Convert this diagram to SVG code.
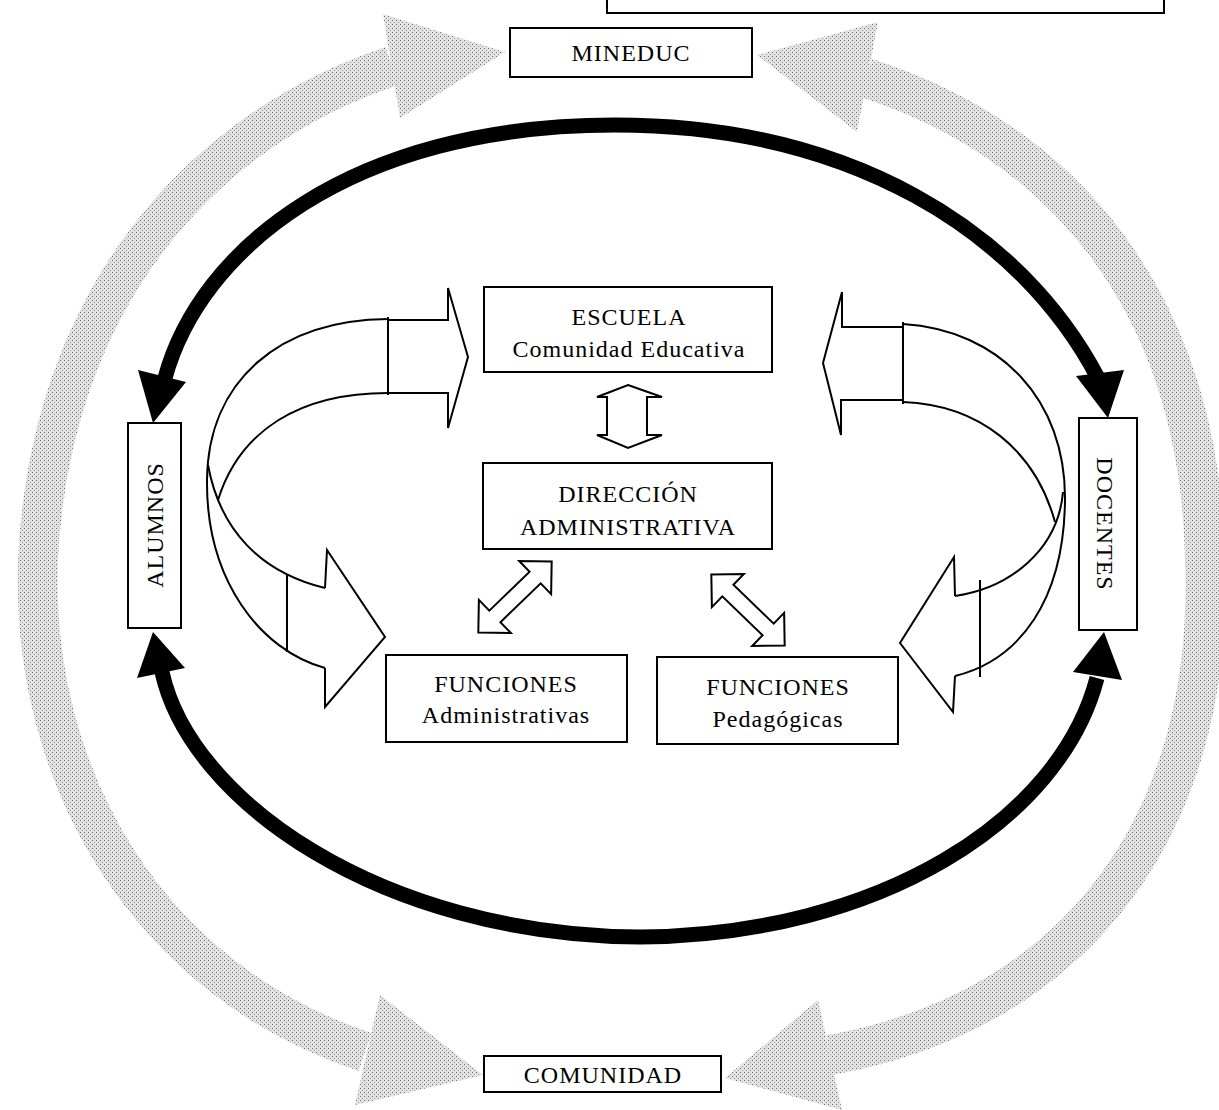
<svg xmlns="http://www.w3.org/2000/svg" width="1219" height="1110" viewBox="0 0 1219 1110">
<defs>
  <pattern id="stip" width="4" height="4" patternUnits="userSpaceOnUse">
    <rect width="4" height="4" fill="#e2e2e2"/>
    <rect x="0" y="0" width="1" height="1" fill="#6e6e6e"/>
    <rect x="2" y="2" width="1" height="1" fill="#9a9a9a"/>
  </pattern>
</defs>
<style>
  .box{fill:#fff;stroke:#000;stroke-width:2}
  .t{font-family:"Liberation Serif","Times New Roman",serif;font-size:24px;fill:#000;text-anchor:middle;letter-spacing:1px}
  .hol{fill:#fff;stroke:#000;stroke-width:2;stroke-linejoin:miter}
  .ln{fill:none;stroke:#000;stroke-width:2}
  .thick{fill:none;stroke:#000;stroke-width:15}
  .head{fill:#000}
  .gband{fill:none;stroke:url(#stip);stroke-width:40}
  .ghead{fill:url(#stip)}
</style>
<rect width="1219" height="1110" fill="#fff"/>

<g id="connectors">
  <g id="gray-left">
    <path class="gband" d="M392,66 C200,130 50,300 38,560 C30,780 150,980 365,1052"/>
    <polygon class="ghead" points="383,14 505,52 400,118"/>
    <polygon class="ghead" points="380,995 483,1075 355,1105"/>
  </g>
  <g id="gray-right">
    <path class="gband" d="M866,78 C1060,140 1200,300 1205,560 C1215,820 1080,1010 830,1055"/>
    <polygon class="ghead" points="878,22 757,55 857,132"/>
    <polygon class="ghead" points="818,1000 725,1078 842,1110"/>
  </g>

  <path class="thick" d="M165,378 C200,250 350,125 615,125 C850,125 1020,230 1098,378"/>
  <polygon class="head" points="138,370 186,382 153,423"/>
  <polygon class="head" points="1076,376 1124,370 1108,418"/>
  <path class="thick" d="M162,672 C190,800 380,935 640,937 C880,935 1060,820 1097,678"/>
  <polygon class="head" points="137,678 185,668 153,632"/>
  <polygon class="head" points="1073,672 1122,680 1104,632"/>

  <g id="curve-left">
    <path class="ln" d="M388,319 C280,320 208,380 207,480 C206,580 260,650 325,668"/>
    <path class="ln" d="M388,393 C300,393 240,430 218,500"/>
    <path class="ln" d="M208,465 C220,530 260,572 325,588"/>
    <path class="ln" d="M287,574 L287,652"/>
    <path class="ln" d="M388,317 L388,395"/>
    <path class="ln" d="M388,320 L448,320 L448,288 L468,357 L448,428 L448,393 L388,393"/>
    <path class="ln" d="M325,588 L327,550 L385,637 L325,707 L325,668"/>
  </g>

  <g id="curve-right">
    <path class="ln" d="M903,324 C1000,330 1066,400 1065,500 C1064,600 1020,660 955,676"/>
    <path class="ln" d="M903,402 C980,405 1035,450 1055,522"/>
    <path class="ln" d="M1063,492 C1058,550 1010,588 955,596"/>
    <path class="ln" d="M980,580 L980,677"/>
    <path class="ln" d="M903,322 L903,404"/>
    <path class="ln" d="M903,327 L842,327 L842,292 L823,363 L841,435 L841,400 L903,400"/>
    <path class="ln" d="M955,596 L954,557 L900,643 L953,712 L955,676"/>
  </g>

  <polygon class="hol" points="628,385 662,397 647,397 647,435 662,435 628,448 597,435 607,435 607,397 597,397"/>
  <polygon class="hol" transform="translate(515,597) rotate(-44)" points="-51,0 -28,-23 -28,-8 28,-8 28,-23 51,0 28,23 28,8 -28,8 -28,23"/>
  <polygon class="hol" transform="translate(748,610) rotate(44)" points="-51,0 -28,-23 -28,-8 28,-8 28,-23 51,0 28,23 28,8 -28,8 -28,23"/>
</g>

<g id="top-box">
  <rect class="box" x="607" y="-20" width="557" height="33"/>
</g>

<g id="mineduc">
  <rect class="box" x="510" y="28" width="242" height="49"/>
  <text class="t" x="631" y="61">MINEDUC</text>
</g>

<g id="comunidad">
  <rect class="box" x="484" y="1056" width="237" height="36"/>
  <text class="t" x="603" y="1083">COMUNIDAD</text>
</g>

<g id="alumnos">
  <rect class="box" x="128" y="423" width="53" height="205"/>
  <text class="t" transform="translate(163,525) rotate(-90)">ALUMNOS</text>
</g>

<g id="docentes">
  <rect class="box" x="1079" y="418" width="58" height="212"/>
  <text class="t" transform="translate(1097,524) rotate(90)">DOCENTES</text>
</g>

<g id="escuela">
  <rect class="box" x="484" y="287" width="288" height="85"/>
  <text class="t" x="629" y="325">ESCUELA</text>
  <text class="t" x="629" y="357">Comunidad Educativa</text>
</g>

<g id="direccion">
  <rect class="box" x="483" y="463" width="289" height="86"/>
  <text class="t" x="628" y="502">DIRECCIÓN</text>
  <text class="t" x="628" y="535">ADMINISTRATIVA</text>
</g>

<g id="funciones-admin">
  <rect class="box" x="386" y="655" width="241" height="87"/>
  <text class="t" x="506" y="692">FUNCIONES</text>
  <text class="t" x="506" y="723">Administrativas</text>
</g>

<g id="funciones-ped">
  <rect class="box" x="657" y="657" width="241" height="87"/>
  <text class="t" x="778" y="695">FUNCIONES</text>
  <text class="t" x="778" y="727">Pedagógicas</text>
</g>
</svg>
